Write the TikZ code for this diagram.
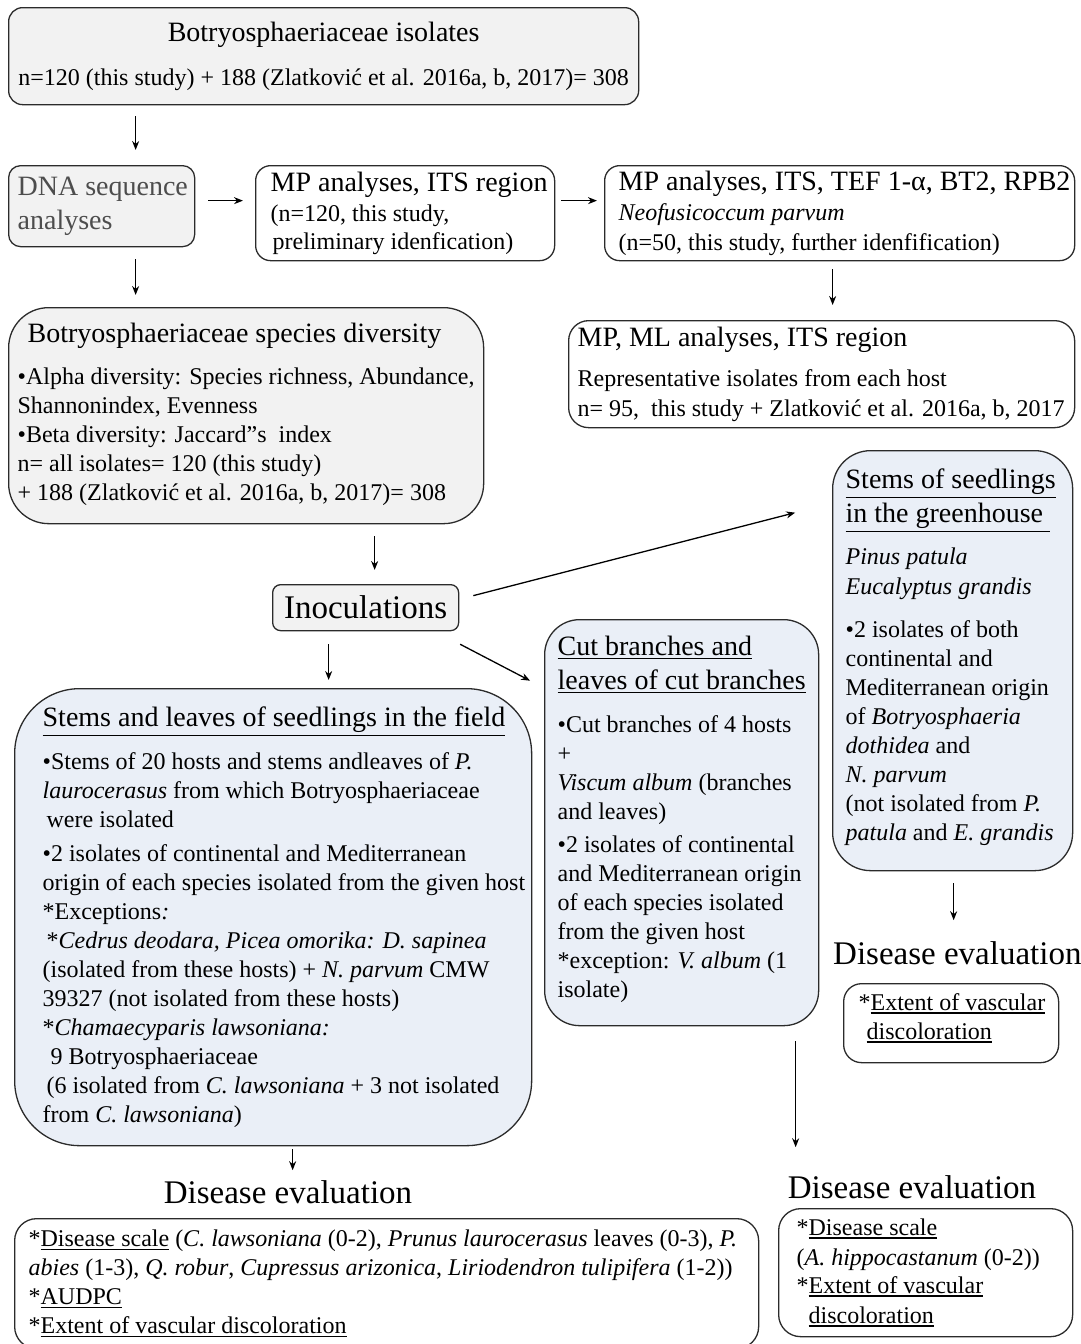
\documentclass[tikz,border=0pt]{standalone}
\usepackage{fontspec}
\setmainfont{Liberation Serif}
\usepackage{xcolor}
\usetikzlibrary{arrows.meta,positioning,calc}
\definecolor{panelgrey}{HTML}{F2F2F2}
\definecolor{panelblue}{HTML}{EAEFF7}
\definecolor{edgegrey}{HTML}{2B2B2B}
\definecolor{dnagrey}{HTML}{4D4D4D}
\newcommand{\headtxt}[1]{{\fontsize{28}{34}\selectfont #1}}
\newcommand{\ulbox}[1]{\leavevmode\vtop{\hbox{#1}\kern2pt\hrule height 1.5pt}}

\begin{document}
\begin{tikzpicture}[
    x=1pt, y=-1pt,
    box/.style={rectangle, draw=edgegrey, line width=1.3pt, anchor=north west,
                align=flush left, inner ysep=2pt, font=\fontsize{24}{29}\selectfont},
    greybox/.style={box, fill=panelgrey},
    bluebox/.style={box, fill=panelblue},
    whitebox/.style={box, fill=white},
    evaltitle/.style={font=\fontsize{33}{40}\selectfont, inner sep=0pt},
    arr/.style={-{Stealth[length=9pt, width=7pt]}, line width=1.3pt},
]
    \useasboundingbox (0,0) rectangle (1081,1344);

    % isolates and sequence analyses
    \node[greybox, rounded corners=14pt, inner xsep=7pt, text width=616pt,
          minimum height=97pt, align=flush center] (top) at (8,7)
        {\headtxt{Botryosphaeriaceae isolates}\\[15pt]
         \mbox{n=120 (this study) + 188 (Zlatković et al. 2016a, b, 2017)= 308}};
    \node[greybox, rounded corners=12pt, inner xsep=9pt, text width=168pt,
          minimum height=81pt, font=\fontsize{28}{34}\selectfont, text=dnagrey] (dna) at (8,165)
        {\mbox{DNA sequence}\\analyses};
    \node[whitebox, rounded corners=15pt, inner xsep=15pt, text width=269pt,
          minimum height=95pt] (mpits) at (255,165)
        {\headtxt{\mbox{MP analyses, ITS region}}\\[1pt]
         (n=120, this study,\\[-1pt]
         \hspace*{2pt}preliminary idenfication)};
    \node[whitebox, rounded corners=15pt, inner xsep=14pt, text width=442pt,
          minimum height=95pt] (mpall) at (604,165)
        {\headtxt{\mbox{MP analyses, ITS, TEF 1-α, BT2, RPB2}}\\[1pt]
         \textit{Neofusicoccum parvum}\\[1pt]
         (n=50, this study, further idenfification)};
    \node[whitebox, rounded corners=20pt, inner xsep=9pt, text width=488pt,
          minimum height=107pt] (mpml) at (568,320)
        {\headtxt{MP, ML analyses, ITS region}\\[11pt]
         Representative isolates from each host\\[1pt]
         \mbox{n= 95,\ \ this study + Zlatković et al. 2016a, b, 2017}};
    \node[greybox, rounded corners=40pt, inner xsep=9pt, text width=457pt,
          minimum height=216pt] (div) at (8,307)
        {\hspace*{10pt}\headtxt{Botryosphaeriaceae species diversity}\\[13pt]
         \mbox{•Alpha diversity: Species richness, Abundance,}\\
         Shannonindex, Evenness\\
         •Beta diversity: Jaccard”s\ \ index\\
         n= all isolates= 120 (this study)\\
         + 188 (Zlatković et al. 2016a, b, 2017)= 308\rule[-8pt]{0pt}{0pt}};

    % inoculation experiments
    \node[greybox, rounded corners=8pt, inner xsep=8pt, text width=170pt,
          minimum height=46pt, align=flush center, font=\fontsize{33}{40}\selectfont] (inoc) at (272,584)
        {Inoculations};
    \node[bluebox, rounded corners=65pt, inner xsep=28pt, text width=461pt,
          minimum height=457pt] (field) at (14,688)
        {\headtxt{\ulbox{Stems and leaves of seedlings in the field}}\\[14pt]
         •Stems of 20 hosts and stems andleaves of \textit{P.}\\
         \textit{laurocerasus} from which Botryosphaeriaceae\\
         \hspace*{4pt}were isolated\\[5pt]
         •2 isolates of continental and Mediterranean\\
         \mbox{origin of each species isolated from the given host}\\
         {*}Exceptions\textit{:}\\
         \hspace*{4pt}*\textit{Cedrus deodara, Picea omorika: D. sapinea}\\
         (isolated from these hosts) + \textit{N. parvum} CMW\\
         39327 (not isolated from these hosts)\\
         {*}\textit{Chamaecyparis lawsoniana:}\\
         \hspace*{8pt}9 Botryosphaeriaceae\\
         \mbox{\hspace*{4pt}(6 isolated from \textit{C. lawsoniana} + 3 not isolated}\\
         from \textit{C. lawsoniana})\rule[-4pt]{0pt}{0pt}};
    \node[bluebox, rounded corners=35pt, inner xsep=13pt, text width=248pt,
          minimum height=406pt] (cut) at (544,619)
        {\headtxt{\ulbox{Cut branches and}}\\[5pt]
         \headtxt{\ulbox{leaves of cut branches}}\\[14pt]
         \mbox{•Cut branches of 4 hosts}\\
         +\\
         \mbox{\textit{Viscum album} (branches}\\
         and leaves)\\[4pt]
         \mbox{•2 isolates of continental}\\
         \mbox{and Mediterranean origin}\\
         of each species isolated\\
         from the given host\\
         {*}exception: \textit{V. album} (1\\
         isolate)\rule[-12pt]{0pt}{0pt}};
    \node[bluebox, rounded corners=38pt, inner xsep=13pt, text width=214pt,
          minimum height=420pt] (green) at (832,450)
        {\headtxt{\ulbox{Stems of seedlings}}\\[5pt]
         \headtxt{\ulbox{in the greenhouse\ }}\\[13pt]
         \textit{Pinus patula}\\[1pt]
         \textit{Eucalyptus grandis}\\[14pt]
         •2 isolates of both\\
         continental and\\
         \mbox{Mediterranean origin}\\
         of \textit{Botryosphaeria}\\
         \textit{dothidea} and\\
         \textit{N. parvum}\\
         (not isolated from \textit{P.}\\
         \mbox{\textit{patula} and \textit{E. grandis}}\rule[-12pt]{0pt}{0pt}};

    % disease evaluation
    \node[evaltitle] (fieldlab) at (288,1192) {Disease evaluation};
    \node[evaltitle] (cutlab) at (912,1187) {Disease evaluation};
    \node[evaltitle, anchor=west] (greenlab) at (833,953) {Disease evaluation};
    \node[whitebox, rounded corners=22pt, inner xsep=14pt, text width=716pt,
          minimum height=130pt] (fieldeval) at (14,1218)
        {\mbox{*\ulbox{Disease scale} (\textit{C. lawsoniana} (0-2), \textit{Prunus laurocerasus} leaves (0-3), \textit{P.}}\\
         \mbox{\textit{abies} (1-3), \textit{Q. robur}, \textit{Cupressus arizonica}, \textit{Liriodendron tulipifera} (1-2))}\\
         {*}\ulbox{AUDPC}\\
         {*}\ulbox{Extent of vascular discoloration}};
    \node[whitebox, rounded corners=22pt, inner xsep=18pt, text width=258pt,
          minimum height=128pt] (cuteval) at (778,1208)
        {*\ulbox{Disease scale}\\[1pt]
         \mbox{(\textit{A. hippocastanum} (0-2))}\\[-1pt]
         {*}\ulbox{Extent of vascular}\\[1pt]
         \hspace*{12pt}\ulbox{discoloration}};
    \node[whitebox, rounded corners=18pt, inner xsep=15pt, text width=185pt,
          minimum height=79pt] (greeneval) at (843,983)
        {*\ulbox{Extent of vascular}\\
         \hspace*{8pt}\ulbox{discoloration}\rule[-14pt]{0pt}{0pt}};

    % arrows
    \draw[arr, shorten <=11pt, shorten >=15pt] ([xshift=-188pt]top.south) -- ([xshift=-188pt]top.south |- dna.north);
    \draw[arr, shorten <=13pt, shorten >=12pt] ([yshift=5.5pt]dna.east) -- ([yshift=5.5pt]dna.east -| mpits.west);
    \draw[arr, shorten <=6pt, shorten >=7pt] ([yshift=12.5pt]mpits.east) -- ([yshift=12.5pt]mpits.east -| mpall.west);
    \draw[arr, shorten <=8pt, shorten >=15pt] ([xshift=-7pt]mpall.south) -- ([xshift=-7pt]mpall.south |- mpml.north);
    \draw[arr, shorten <=12pt, shorten >=12pt] ([xshift=34pt]dna.south) -- ([xshift=34pt]dna.south |- div.north);
    \draw[arr, shorten <=12pt, shorten >=14pt] ([xshift=128.5pt]div.south) -- ([xshift=128.5pt]div.south |- inoc.north);
    \draw[arr, shorten <=14.5pt, shorten >=38pt] ([yshift=8.4pt]inoc.east) -- ([yshift=157.5pt]green.west);
    \draw[arr, shorten <=1pt, shorten >=15.7pt] ([yshift=-12.5pt]inoc.south east) -- ([yshift=134.7pt]cut.west);
    \draw[arr, shorten <=13pt, shorten >=8pt] ([xshift=-37pt]inoc.south) -- ([xshift=-37pt]inoc.south |- field.north);
    \draw[arr, shorten <=3pt, shorten >=10pt] ([xshift=19.5pt]field.south) -- ([xshift=19.5pt]field.south |- fieldlab.north);
    \draw[arr, shorten <=15pt, shorten >=28pt] ([xshift=114pt]cut.south) -- ([xshift=114pt]cut.south |- cutlab.north);
    \draw[arr, shorten <=12pt, shorten >=21pt] ([xshift=1pt]green.south) -- ([xshift=1pt]green.south |- greenlab.north);
\end{tikzpicture}
\end{document}
